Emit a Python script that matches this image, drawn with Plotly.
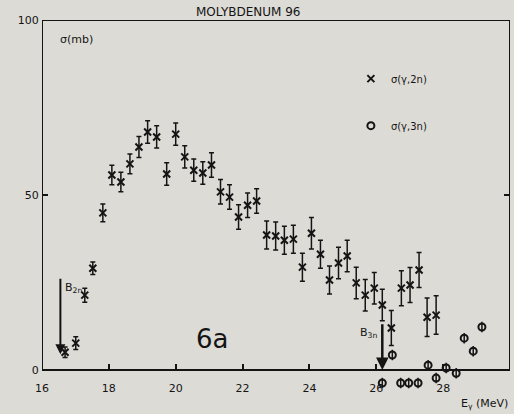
import plotly.graph_objects as go

# (gamma,2n) cross section, mb
e_2n = [16.69, 17.01, 17.28, 17.52, 17.82, 18.09, 18.36, 18.63, 18.90, 19.16,
        19.43, 19.73, 20.00, 20.27, 20.54, 20.81, 21.07, 21.34, 21.61, 21.88,
        22.15, 22.42, 22.72, 22.99, 23.25, 23.52, 23.79, 24.06, 24.33, 24.60,
        24.87, 25.13, 25.40, 25.67, 25.94, 26.18, 26.45, 26.75, 27.01, 27.28,
        27.52, 27.79]
sig_2n = [5.1, 7.7, 21.4, 29.1, 44.9, 55.7, 53.7, 58.9, 63.7, 68.0,
          66.6, 56.0, 67.4, 60.9, 57.1, 56.3, 58.6, 50.9, 49.4, 43.7,
          47.1, 48.3, 38.6, 38.3, 37.1, 37.4, 29.4, 39.1, 33.1, 25.7,
          30.6, 32.6, 24.9, 21.4, 23.4, 18.6, 12.0, 23.4, 24.3, 28.6,
          15.1, 15.7]
err_2n = [1.5, 1.8, 2.0, 1.8, 2.5, 2.8, 2.8, 2.8, 3.0, 3.2,
          3.2, 3.2, 3.2, 3.2, 3.2, 3.2, 3.5, 3.5, 3.5, 3.5,
          3.5, 3.5, 4.0, 4.0, 4.0, 4.0, 4.0, 4.5, 4.0, 4.0,
          4.5, 4.5, 4.5, 4.5, 4.5, 4.5, 5.0, 5.0, 5.0, 5.0,
          5.5, 5.5]

# (gamma,3n) cross section, mb
e_3n = [26.18, 26.48, 26.73, 26.97, 27.25, 27.55, 27.79, 28.09, 28.39,
        28.63, 28.90, 29.16]
sig_3n = [-3.7, 4.3, -3.7, -3.7, -3.7, 1.4, -2.3, 0.6, -0.9,
          9.1, 5.4, 12.3]
err_3n = [1.5, 1.5, 1.5, 1.5, 1.5, 1.5, 1.5, 1.5, 1.5, 1.5, 1.5, 1.5]

x_ticks = [16, 18, 20, 22, 24, 26, 28, 30]
y_ticks = [0, 50, 100]

ink = "#141414"
paper = "#dddbd6"
font = "DejaVu Sans"

# the 3n points dip below zero, so the y range goes a bit under the frame
y_min = -9.7
x_pos = -y_min / (100 - y_min)

fig = go.Figure()
fig.add_trace(go.Scatter(
    x=e_2n, y=sig_2n, mode="markers", name="σ(γ,2n)", legendgroup="a",
    marker=dict(symbol="x-thin", size=7, color=ink, line=dict(width=2, color=ink)),
    error_y=dict(type="data", array=err_2n, color=ink, thickness=1.5, width=2.5),
    cliponaxis=False,
))
fig.add_trace(go.Scatter(
    x=e_3n, y=sig_3n, mode="markers", name="σ(γ,3n)", legendgroup="b",
    marker=dict(symbol="circle-open", size=7, color=ink, line=dict(width=2, color=ink)),
    error_y=dict(type="data", array=err_3n, color=ink, thickness=1.5, width=0),
    cliponaxis=False,
))

# frame
fig.add_shape(type="rect", xref="x", yref="y", x0=16, x1=30, y0=0, y1=100,
              line=dict(color=ink, width=2), layer="above")

fig.add_annotation(x=16.55, y=4.5, ax=16.55, ay=26.5, xref="x", yref="y",
                   axref="x", ayref="y", text="", showarrow=True,
                   arrowhead=2, arrowsize=1, arrowwidth=2, arrowcolor=ink)
fig.add_annotation(x=16.62, y=26, text="B<sub>2n</sub>", showarrow=False,
                   xanchor="left", yanchor="top", font=dict(family=font, size=11, color=ink))
fig.add_annotation(x=26.18, y=0, ax=26.18, ay=13.5, xref="x", yref="y",
                   axref="x", ayref="y", text="", showarrow=True,
                   arrowhead=2, arrowsize=1, arrowwidth=2.5, arrowcolor=ink)
fig.add_annotation(x=26.08, y=10.5, text="B<sub>3n</sub>", showarrow=False,
                   xanchor="right", font=dict(family=font, size=11, color=ink))
fig.add_annotation(x=21.1, y=9.0, text="6a", showarrow=False,
                   font=dict(family=font, size=26, color=ink))
fig.add_annotation(x=0.035, y=94.5, xref="paper", yref="y", text="σ(mb)",
                   showarrow=False, xanchor="left", font=dict(family=font, size=11, color=ink))
fig.add_annotation(x=0.44, y=100, xref="paper", yref="y", text="MOLYBDENUM 96",
                   showarrow=False, yanchor="bottom", yshift=-1,
                   font=dict(family=font, size=12, color=ink))
fig.add_annotation(x=1.0, y=0, xref="paper", yref="paper", text="E<sub>γ</sub> (MeV)",
                   showarrow=False, xanchor="right", yanchor="middle",
                   font=dict(family=font, size=11, color=ink))

fig.update_xaxes(range=[16, 30], tickvals=x_ticks, ticks="inside", ticklen=6,
                 tickwidth=1.5, tickcolor=ink, showline=True, linecolor="rgba(0,0,0,0)",
                 mirror="ticks", anchor="free", position=x_pos, ticklabelstandoff=8,
                 showgrid=False, zeroline=False, automargin=False,
                 tickfont=dict(family=font, size=11, color=ink))
fig.update_yaxes(range=[y_min, 100], tickvals=y_ticks, ticks="inside", ticklen=6,
                 tickwidth=1.5, tickcolor=ink, showline=True, linecolor="rgba(0,0,0,0)",
                 mirror="ticks", showgrid=False, zeroline=False, automargin=False,
                 tickfont=dict(family=font, size=11, color=ink))

fig.update_layout(
    width=514, height=414,
    margin=dict(l=42, r=4, t=20, b=10),
    paper_bgcolor=paper, plot_bgcolor=paper,
    font=dict(family=font, size=11, color=ink),
    legend=dict(x=0.66, y=0.885, xanchor="left", yanchor="top",
                bgcolor="rgba(0,0,0,0)", tracegroupgap=28,
                font=dict(family=font, size=10, color=ink)),
)

fig.write_html(
    "out.html",
    config={"displayModeBar": False},
    post_script="document.body.style.margin='0';document.body.style.background='%s';" % paper,
)
